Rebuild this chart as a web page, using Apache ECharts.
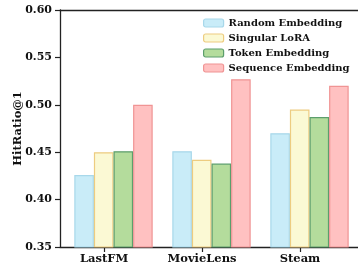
<!DOCTYPE html>
<html>
<head>
<meta charset="utf-8">
<script src="https://cdn.jsdelivr.net/npm/echarts@6/dist/echarts.min.js"></script>
<style>
	html, body { margin: 0; padding: 0; background: #fff; }
	#chart { width: 358px; height: 265px; }
</style>
</head>
<body>
<div id="chart"></div>
<script>
	var categories = ['LastFM', 'MovieLens', 'Steam'];
	var seriesNames = ['Random Embedding', 'Singular LoRA', 'Token Embedding', 'Sequence Embedding'];
	var randomEmb = [0.426, 0.451, 0.470];
	var singularLora = [0.450, 0.442, 0.495];
	var tokenEmb = [0.451, 0.438, 0.487];
	var sequenceEmb = [0.500, 0.527, 0.520];
	var yTicks = [0.35, 0.40, 0.45, 0.50, 0.55, 0.60];

	var fills = ['#c9ecf8', '#fbf9d4', '#b4dc9c', '#ffc1c1'];
	var edges = ['#a8d8ea', '#edcc80', '#5c9e6c', '#f09494'];
	var font = 'DejaVu Serif';

	var chart = echarts.init(document.getElementById('chart'));
	var values = [randomEmb, singularLora, tokenEmb, sequenceEmb];

	var series = values.map(function(v, i) {
		return {
			name: seriesNames[i],
			type: 'bar',
			xAxisIndex: 1,
			yAxisIndex: 1,
			barWidth: 19.6,
			barGap: '0%',
			itemStyle: { color: fills[i], borderColor: edges[i], borderWidth: 1.2 },
			data: v
		};
	});

	var yMin = yTicks[0], yMax = yTicks[yTicks.length - 1];

	var option = {
		animation: false,
		textStyle: { fontFamily: font },
		// grid 0: frame + y axis, grid 1: bars, grid 2: x labels/ticks
		grid: [
			{ left: 60, top: 10, width: 304, height: 237, outerBoundsMode: 'none', containLabel: false },
			{ left: 64.5, top: 10, width: 294, height: 237, outerBoundsMode: 'none', containLabel: false },
			{ left: 55, top: 10, width: 294, height: 237, outerBoundsMode: 'none', containLabel: false }
		],
		legend: {
			orient: 'vertical',
			left: 198,
			top: 12,
			itemWidth: 20,
			itemHeight: 8,
			itemGap: 3,
			itemStyle: { borderWidth: 1.2 },
			textStyle: { fontFamily: font, fontWeight: 'bold', fontSize: 10, color: '#111', lineHeight: 12 },
			data: seriesNames
		},
		xAxis: [
			{
				type: 'category', gridIndex: 0, data: categories, position: 'bottom',
				axisLine: { show: true, lineStyle: { color: '#222', width: 1.3 } },
				axisTick: { show: false }, axisLabel: { show: false }
			},
			{ type: 'category', gridIndex: 1, data: categories, show: false },
			{
				type: 'category', gridIndex: 2, data: categories,
				axisLine: { show: false },
				axisTick: { show: true, alignWithLabel: true, length: 5, lineStyle: { color: '#222', width: 1.2 } },
				axisLabel: { fontFamily: font, fontWeight: 'bold', fontSize: 11.5, color: '#111', margin: 6 }
			},
			{
				type: 'category', gridIndex: 0, data: categories, position: 'top',
				axisLine: { show: true, lineStyle: { color: '#222', width: 1.3 } },
				axisTick: { show: false }, axisLabel: { show: false }
			}
		],
		yAxis: [
			{
				type: 'value', gridIndex: 0, min: yMin, max: yMax, interval: 0.05,
				name: 'HitRatio@1', nameLocation: 'middle', nameGap: 36, nameMoveOverlap: false,
				nameTextStyle: { fontFamily: font, fontWeight: 'bold', fontSize: 11.5, color: '#111' },
				axisLine: { show: true, lineStyle: { color: '#222', width: 1.3 } },
				axisTick: { show: true, length: 5, lineStyle: { color: '#222', width: 1.2 } },
				splitLine: { show: false },
				axisLabel: {
					fontFamily: font, fontWeight: 'bold', fontSize: 11, color: '#111', margin: 8,
					formatter: function(v) { return v.toFixed(2); }
				}
			},
			{ type: 'value', gridIndex: 1, min: yMin, max: yMax, interval: 0.05, show: false },
			{ type: 'value', gridIndex: 2, min: yMin, max: yMax, interval: 0.05, show: false }
		],
		series: series
	};
	chart.setOption(option);
</script>
</body>
</html>
